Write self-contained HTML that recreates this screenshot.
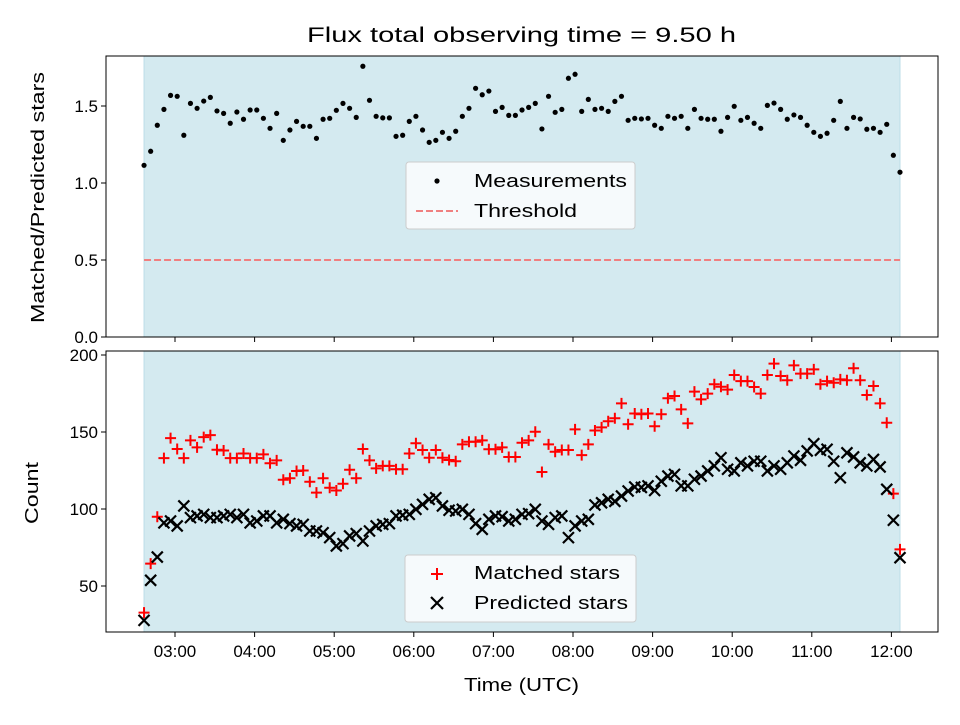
<!DOCTYPE html>
<html><head><meta charset="utf-8"><style>
body{margin:0;background:#fff;}
svg text{font-family:"Liberation Sans",sans-serif;fill:#000;}
</style></head><body>
<svg id="chart" width="960" height="720" viewBox="0 0 960 720" xmlns="http://www.w3.org/2000/svg">
<rect width="960" height="720" fill="#fff"/>
<text x="307" y="42" font-size="21" textLength="429" lengthAdjust="spacingAndGlyphs">Flux total observing time = 9.50 h</text>
<g id="gtop"></g><g id="gbot"></g>
</svg>
<script>
const ratioValues=[1.115,1.206,1.375,1.478,1.569,1.563,1.31,1.517,1.485,1.532,1.556,1.468,1.452,1.388,1.461,1.414,1.474,1.474,1.42,1.355,1.452,1.277,1.344,1.4,1.368,1.368,1.29,1.414,1.42,1.472,1.517,1.485,1.426,1.758,1.537,1.433,1.423,1.423,1.303,
1.31,1.4,1.433,1.344,1.264,1.277,1.329,1.29,1.336,1.433,1.485,1.615,1.573,1.597,1.465,1.491,1.439,1.439,1.474,1.491,1.517,1.351,1.563,1.459,1.478,1.68,1.706,1.465,1.543,1.478,1.485,1.465,1.53,1.563,1.407,1.42,1.416,1.42,1.375,1.355,
1.433,1.42,1.433,1.355,1.478,1.42,1.414,1.414,1.336,1.426,1.498,1.407,1.426,1.388,1.355,1.504,1.519,1.478,1.414,1.442,1.426,1.375,1.329,1.303,1.323,1.407,1.53,1.355,1.426,1.416,1.349,1.355,1.329,1.381,1.18,1.07];
const matchedValues=[32.7,64.5,95,133,146,139,133,144.6,140,146.7,148,138.5,138,133,133,136,133,133,135.5,129.7,131.6,119,120,124.7,125,117.7,110.6,120,113.8,112,116.4,125.5,120,139,131.6,126.4,128,128,125.8,
125.8,136,142.7,138.3,133.3,138.3,133.3,131.8,131,142,143.7,143.7,144.6,138.8,138.8,140,133.8,133.8,143,144.6,150.2,124,142,137.2,138.3,138.3,151.7,135,142,151,153,157,158.9,168.6,155,162,161.5,162,153.7,161.5,
171.9,173.4,164.7,155.6,176.2,171.2,174.9,181,179.4,177.5,187,183,183,179.2,174.9,187,194.4,186.4,183.6,193.3,187.9,187.9,190.7,181,183,182,184.2,183.6,191.4,183.6,174,179.9,168.6,156,110,73.8];
const predictedValues=[27.7,53.7,68.8,91,92.2,89,102,94.4,95.5,96.5,94.4,94.4,95.5,96.5,94.4,96.5,91,92.2,95.5,95.5,91,93.3,90.5,89,90,85.7,85.7,84.6,81.4,76,77.5,82.5,84,79.2,85.7,89,90,90.5,95.5,
96,96.5,99.8,103,106.3,107.3,102,99.2,98.7,99.8,96.5,90.5,86.8,93.3,95.5,95,92.2,93.3,96.5,97,99.8,92.2,90,94.4,95.5,81.4,89,92.2,93.3,102.6,104,106.3,105,108.4,111.7,114.3,114,115,112,118,
121.4,122.5,115,115,119.3,121.4,124.7,128,133.3,125.8,124.7,130,128,131,131,124.7,128,125.8,130,134.4,131.6,137.7,142.4,138.1,138.8,131,120.3,136.5,133.8,130,128,132.2,127.3,112.8,92.7,68.4];
const startHour=2.611, endHour=12.108;
const xTickLabels=["03:00","04:00","05:00","06:00","07:00","08:00","09:00","10:00","11:00","12:00"];
const xTickHours=[3,4,5,6,7,8,9,10,11,12];
const topTickValues=[0.0,0.5,1.0,1.5];
const botTickValues=[50,100,150,200];
const threshold=0.5;

const NS="http://www.w3.org/2000/svg";
const L=106,R=938;
const xs=h=>175+(h-3)*79.6;
const yTop=v=>337-v*154;
const yBot=v=>509-(v-100)*1.54;
const N=ratioValues.length;
const tHour=i=>startHour+i*(endHour-startHour)/(N-1);
function mk(p,tag,a,txt){const e=document.createElementNS(NS,tag);for(const k in a)e.setAttribute(k,a[k]);if(txt!==undefined)e.textContent=txt;p.appendChild(e);return e;}
function panel(g,y0,y1,name){
  const bg=mk(g,'rect',{x:xs(startHour),y:y0,width:xs(endHour)-xs(startHour),height:y1-y0,fill:'#d4eaf0',stroke:'#bcdde7','stroke-width':1});
  
  
  xTickHours.forEach((h,i)=>{
    const t=mk(g,'line',{x1:xs(h),x2:xs(h),y1:y1,y2:y1+5,stroke:'#000','stroke-width':1});
    
    
  });
}
const gTop=document.getElementById('gtop'),gBot=document.getElementById('gbot');
panel(gTop,56,337,'top');panel(gBot,351,632,'bottom');
const th=mk(gTop,'line',{x1:xs(startHour),x2:xs(endHour),y1:yTop(threshold),y2:yTop(threshold),stroke:'#f08080','stroke-width':2,'stroke-dasharray':'7,3'});


ratioValues.forEach((v,i)=>{
  const c=mk(gTop,'circle',{cx:xs(tHour(i)),cy:yTop(v),r:2.6,fill:'#000'});
  
  
});
matchedValues.forEach((v,i)=>{
  const x=xs(tHour(i)),y=yBot(v),s=5.5;
  const p=mk(gBot,'path',{d:`M${x-s},${y}H${x+s}M${x},${y-s}V${y+s}`,stroke:'#f00','stroke-width':2});
  
  
});
predictedValues.forEach((v,i)=>{
  const x=xs(tHour(i)),y=yBot(v),s=5.5;
  const p=mk(gBot,'path',{d:`M${x-s},${y-s}L${x+s},${y+s}M${x-s},${y+s}L${x+s},${y-s}`,stroke:'#000','stroke-width':2.2});
  
  
});
[[gTop,56,337,'top'],[gBot,351,632,'bottom']].forEach(([g,y0,y1,n])=>{
  const f=mk(g,'rect',{x:L,y:y0,width:R-L,height:y1-y0,fill:'none',stroke:'#000','stroke-width':1});
  
  
});
topTickValues.forEach(v=>{
  const y=yTop(v);
  const t=mk(gTop,'line',{x1:L-5,x2:L,y1:y,y2:y,stroke:'#000'});
  
  
  const l=mk(gTop,'text',{x:L-8,y:y+6,'font-size':17,'text-anchor':'end'},v.toFixed(1));
  
  
});
botTickValues.forEach(v=>{
  const y=yBot(v);
  const t=mk(gBot,'line',{x1:L-5,x2:L,y1:y,y2:y,stroke:'#000'});
  
  
  const l=mk(gBot,'text',{x:L-8,y:y+6,'font-size':17,'text-anchor':'end'},String(v));
  
  
});
xTickHours.forEach((h,i)=>{
  const l=mk(gBot,'text',{x:xs(h),y:657,'font-size':17,'text-anchor':'middle'},xTickLabels[i]);
  
  
});
let a=mk(gBot,'text',{x:464,y:691,'font-size':18,textLength:115,lengthAdjust:'spacingAndGlyphs'},'Time (UTC)');


a=mk(gTop,'text',{x:44,y:323,'font-size':18,textLength:251,lengthAdjust:'spacingAndGlyphs',transform:'rotate(-90 44 323)'},'Matched/Predicted stars');


a=mk(gBot,'text',{x:38,y:524,'font-size':18,textLength:62,lengthAdjust:'spacingAndGlyphs',transform:'rotate(-90 38 524)'},'Count');


function legend(g,x,y,w,h,name){
  const r=mk(g,'rect',{x:x,y:y,width:w,height:h,rx:3,fill:'#f6fafc',stroke:'#ccc'});
  
  
}
legend(gTop,406,162,229,67,'top-legend');
let e=mk(gTop,'circle',{cx:437,cy:181,r:2.6,fill:'#000'});


e=mk(gTop,'text',{x:474,y:187,'font-size':18,textLength:153,lengthAdjust:'spacingAndGlyphs'},'Measurements');


e=mk(gTop,'line',{x1:416,x2:458,y1:211,y2:211,stroke:'#f08080','stroke-width':2,'stroke-dasharray':'7,3'});


e=mk(gTop,'text',{x:474,y:217,'font-size':18,textLength:103,lengthAdjust:'spacingAndGlyphs'},'Threshold');


legend(gBot,405,555,231,67,'bottom-legend');
e=mk(gBot,'path',{d:'M431,574H443M437,568V580',stroke:'#f00','stroke-width':2});


e=mk(gBot,'text',{x:474,y:579,'font-size':18,textLength:146,lengthAdjust:'spacingAndGlyphs'},'Matched stars');


e=mk(gBot,'path',{d:'M431,597L443,609M431,609L443,597',stroke:'#000','stroke-width':2.2});


e=mk(gBot,'text',{x:474,y:609,'font-size':18,textLength:154,lengthAdjust:'spacingAndGlyphs'},'Predicted stars');


</script>
</body></html>
